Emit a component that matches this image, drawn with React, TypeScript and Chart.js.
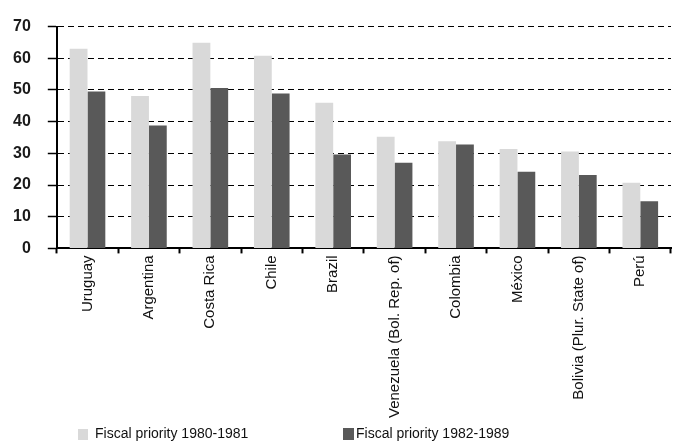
import React, { useEffect, useRef } from "react";
import { Chart, registerables } from "chart.js";

Chart.register(...registerables);

const categories = [
  "Uruguay",
  "Argentina",
  "Costa Rica",
  "Chile",
  "Brazil",
  "Venezuela (Bol. Rep. of)",
  "Colombia",
  "México",
  "Bolivia (Plur. State of)",
  "Perú",
];
const priority1980 = [63.0, 48.1, 64.9, 60.8, 46.0, 35.2, 33.8, 31.4, 30.6, 20.7];
const priority1982 = [49.5, 38.8, 50.6, 48.9, 29.6, 27.0, 32.8, 24.2, 23.2, 14.9];
const seriesLabels = ["Fiscal priority 1980-1981", "Fiscal priority 1982-1989"];
const seriesColors = ["#d9d9d9", "#595959"];

const FONT = "'Liberation Sans', Arial, sans-serif";

export default function App() {
  const ref = useRef<HTMLCanvasElement | null>(null);

  useEffect(() => {
    if (!ref.current) return;
    const chart = new Chart(ref.current, {
      type: "bar",
      data: {
        labels: categories,
        datasets: [
          {
            label: seriesLabels[0],
            data: priority1980,
            backgroundColor: seriesColors[0],
            borderWidth: 0,
            categoryPercentage: 0.58,
            barPercentage: 1,
          },
          {
            label: seriesLabels[1],
            data: priority1982,
            backgroundColor: seriesColors[1],
            borderWidth: 0,
            categoryPercentage: 0.58,
            barPercentage: 1,
          },
        ],
      },
      options: {
        responsive: false,
        animation: false,
        layout: { padding: { left: -4, right: 2, top: 17, bottom: 22 } },
        plugins: {
          legend: { display: false },
          tooltip: { enabled: false },
        },
        scales: {
          x: {
            grid: {
              display: true,
              drawOnChartArea: false,
              drawTicks: true,
              tickLength: 5,
              tickColor: "#000",
              tickWidth: 2,
              offset: true,
            },
            border: { display: true, color: "#000", width: 2 },
            ticks: {
              autoSkip: false,
              maxRotation: 90,
              minRotation: 90,
              padding: 2,
              color: "#111",
              font: { family: FONT, size: 15 },
            },
          },
          y: {
            min: 0,
            max: 70,
            grid: {
              color: "#000",
              lineWidth: 1,
              drawTicks: true,
              tickLength: 9,
              tickColor: "#000",
              tickWidth: 1.5,
            },
            border: { display: true, color: "#000", width: 2, dash: [6, 4] },
            ticks: {
              stepSize: 10,
              padding: 17,
              color: "#1a1a1a",
              font: { family: FONT, size: 16, weight: "bold" },
            },
          },
        },
      },
    });
    return () => chart.destroy();
  }, []);

  const legendText: React.CSSProperties = {
    position: "absolute",
    top: 425,
    fontFamily: FONT,
    fontSize: 14,
    color: "#111",
    lineHeight: "16px",
    whiteSpace: "nowrap",
  };

  return (
    <div style={{ position: "absolute", left: 0, top: 0, width: 673, height: 442, background: "#fff" }}>
      <canvas ref={ref} width={673} height={442} style={{ display: "block" }} />
      <div style={{ position: "absolute", left: 78, top: 429, width: 10, height: 11, background: seriesColors[0] }} />
      <div style={{ ...legendText, left: 95 }}>{seriesLabels[0]}</div>
      <div style={{ position: "absolute", left: 343, top: 428, width: 11, height: 12, background: seriesColors[1] }} />
      <div style={{ ...legendText, left: 356 }}>{seriesLabels[1]}</div>
    </div>
  );
}
